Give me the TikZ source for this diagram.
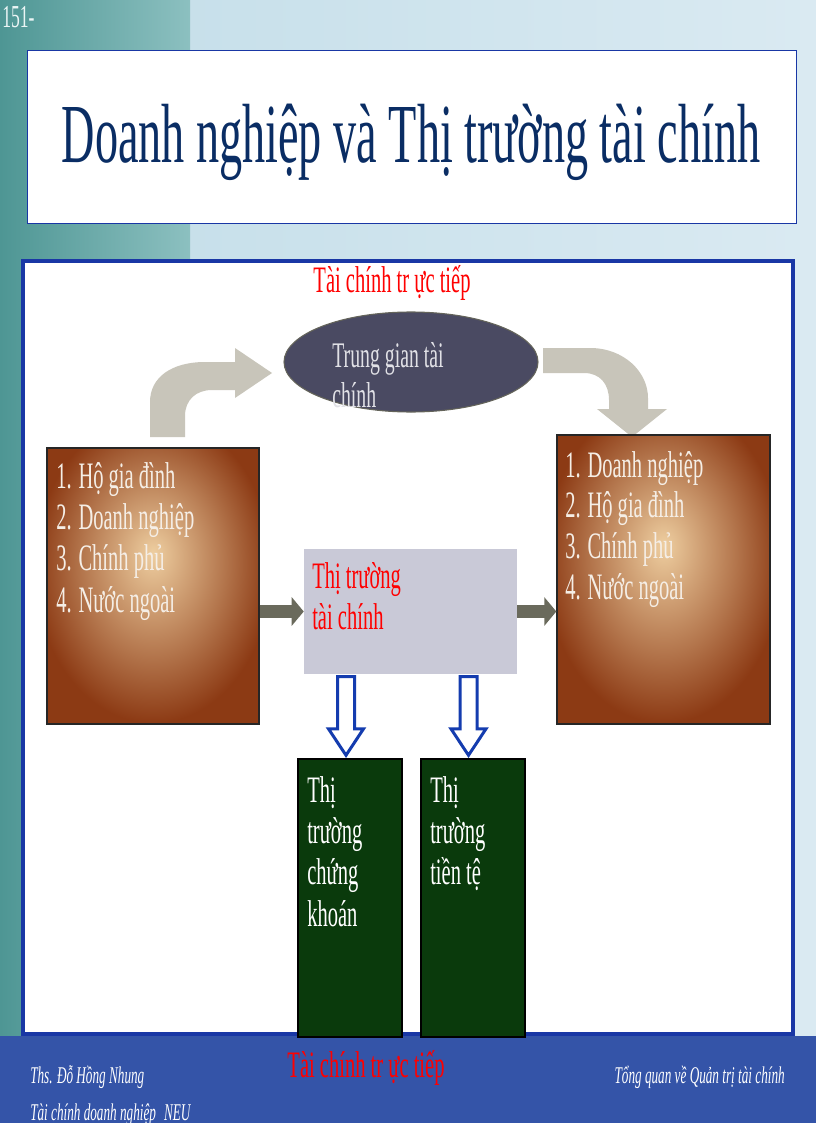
\documentclass[tikz,border=0pt]{standalone}
\usepackage{fontspec}
\setmainfont{Liberation Serif}
\newfontfamily\slidefont[FakeStretch=0.55]{Liberation Serif}
\usepackage{tikz}
\usetikzlibrary{positioning, arrows.meta, shapes.geometric, shapes.arrows}
\definecolor{tealdark}{RGB}{78,150,148}
\definecolor{teallight}{RGB}{140,192,192}
\definecolor{paleblue}{RGB}{194,221,232}
\definecolor{paleblue2}{RGB}{218,234,242}
\definecolor{bandblue}{RGB}{52,84,168}
\definecolor{frameblue}{RGB}{25,55,165}
\definecolor{titleblue}{RGB}{10,45,100}
\definecolor{ellfill}{RGB}{74,74,98}
\definecolor{ellline}{RGB}{100,100,90}
\definecolor{elltext}{RGB}{225,225,230}
\definecolor{beige}{RGB}{200,197,186}
\definecolor{arrowgray}{RGB}{106,106,92}
\definecolor{midgray}{RGB}{201,201,215}
\definecolor{boxgreen}{RGB}{10,58,12}
\definecolor{arrowblue}{RGB}{20,60,175}
\definecolor{tan}{RGB}{238,206,160}
\definecolor{rust}{RGB}{140,58,20}
\definecolor{lighttext}{RGB}{245,238,230}
\pgfdeclareradialshading{brownglow}{\pgfpoint{0bp}{6bp}}{color(0bp)=(tan); color(7bp)=(tan!75!rust); color(17bp)=(tan!40!rust); color(28bp)=(rust); color(60bp)=(rust)}
\tikzset{%
	sizebox/.style 2 args = {minimum width = #1, minimum height = #2, inner sep = 0pt},
	brownbox/.style = {draw = black!85, line width = 1pt, shading = brownglow},
	greenbox/.style = {draw = black, line width = 1.5pt, fill = boxgreen},
	txt/.style = {anchor = base west, inner sep = 0pt, align = flush left, text width = 150pt},
	boxfont/.style = {font = \slidefont\fontsize{28pt}{31pt}\selectfont},
	foot/.style = {inner sep = 0pt, text = white, font = \slidefont\itshape\fontsize{18pt}{20pt}\selectfont},
	redlabel/.style = {anchor = base, inner sep = 0pt, text = red, font = \slidefont\fontsize{28pt}{31pt}\selectfont},
	flowarrow/.style = {draw = arrowgray, line width = 9.75pt, -{Triangle[length = 9pt, width = 21pt]}},
	downarrow/.style = {single arrow, shape border rotate = 270, draw = arrowblue, fill = white, line width = 2.25pt,
		inner sep = 5.25pt, minimum height = 59pt, single arrow head extend = 6.75pt, single arrow tip angle = 67, anchor = tip},
	bentarrow/.style = {fill = beige}
}
\begin{document}
\begin{tikzpicture}[x = 0.75pt, y = -0.75pt]
			\useasboundingbox (0,0) rectangle (816,1123);
			% background of the slide
			\shade [left color = paleblue, right color = paleblue2] (0,0) rectangle (816,1123);
			\shade [left color = tealdark, right color = teallight] (0,0) rectangle (190,1123);
			\fill [bandblue] (0,1036) rectangle (816,1123);
			\node [white!92!teal, anchor = base west, inner sep = 0pt, font = \slidefont\fontsize{24pt}{26pt}\selectfont] (pagenum) at (2,28) {151-};
			% title
			\node [sizebox = {576.75pt}{129.75pt}, draw = frameblue, fill = white, line width = 0.6pt] (titlebox) at (411.5,136.5) {};
			\node [anchor = base, inner sep = 0pt, text = titleblue, font = \slidefont\fontsize{63pt}{66pt}\selectfont] (title) at (411,163) {Doanh nghiệp và Thị trường tài chính};
			% main frame
			\node [sizebox = {577.5pt}{579.75pt}, draw = frameblue, fill = white, line width = 2.5pt] (frame) at (408,647.5) {};
			\node [redlabel] (direct) at (392,292) {Tài chính tr ực tiếp};
			% intermediary
			\node [ellipse, sizebox = {190.5pt}{75pt}, fill = ellfill, draw = ellline, line width = 0.8pt] (inter) at (411,362) {};
			\node [txt, text = elltext, font = \slidefont\fontsize{27pt}{30pt}\selectfont] (intertext) at (332,367) {Trung gian tài\\chính};
			\fill [bentarrow] (150,437) -- (150,402) .. controls (150,377) and (172,362) .. (205,362) -- (235,362) -- (235,348)
				-- (272,373) -- (235,398) -- (235,390) -- (212,390) .. controls (196,390) and (185,400) .. (185,416) -- (185,437) -- cycle;
			\fill [bentarrow] (543,348) -- (590,348) .. controls (624,348) and (648,372) .. (648,398) -- (648,409) -- (667,409)
				-- (632,437) -- (597,409) -- (609,409) -- (609,400) .. controls (609,384) and (600,373) .. (584,373) -- (543,373) -- cycle;
			% lenders and borrowers
			\node [brownbox, sizebox = {159pt}{207pt}] (lenders) at (153,586) {};
			\node [brownbox, sizebox = {159.75pt}{216.75pt}] (borrowers) at (663.5,579.5) {};
			\node [txt, boxfont, text = lighttext] (lenderstext) at (56,488) {1. Hộ gia đình\\2. Doanh nghiệp\\3. Chính phủ\\4. Nước ngoài};
			\node [txt, text = lighttext, font = \slidefont\fontsize{28pt}{30.5pt}\selectfont] (borrowerstext) at (565,477) {1. Doanh nghiệp\\2. Hộ gia đình\\3. Chính phủ\\4. Nước ngoài};
			% financial market
			\node [sizebox = {159.75pt}{93.75pt}, fill = midgray] (market) at (410.5,611.5) {};
			\node [txt, boxfont, text = red] (markettext) at (312,588) {Thị trường\\tài chính};
			\draw [flowarrow] (market.west -| lenders.east) -- (market.west);
			\draw [flowarrow] (market.east) -- (market.east -| borrowers.west);
			% two markets
			\node [greenbox, sizebox = {78pt}{208.5pt}] (stock) at (350,898) {};
			\node [greenbox, sizebox = {78pt}{208.5pt}] (money) at (472.5,898) {};
			\node [txt, boxfont, text = white] (stocktext) at (307,802) {Thị\\trường\\chứng\\khoán};
			\node [txt, boxfont, text = white] (moneytext) at (430,802) {Thị\\trường\\tiền tệ};
			\node [downarrow, xshift = -3pt] (tostock) at (stock.north) {};
			\node [downarrow, xshift = -3pt] (tomoney) at (money.north) {};
			% footer
			\node [foot, anchor = base west] (author) at (30,1083) {Ths. Đỗ Hồng Nhung};
			\node [foot, anchor = base west] (course) at (30,1120) {Tài chính doanh nghiệp\hspace{6pt}NEU};
			\node [redlabel] (direct2) at (366,1077) {Tài chính tr ực tiếp};
			\node [foot, anchor = base east] (topic) at (785,1083) {Tổng quan về Quản trị tài chính};
\end{tikzpicture}
\end{document}
